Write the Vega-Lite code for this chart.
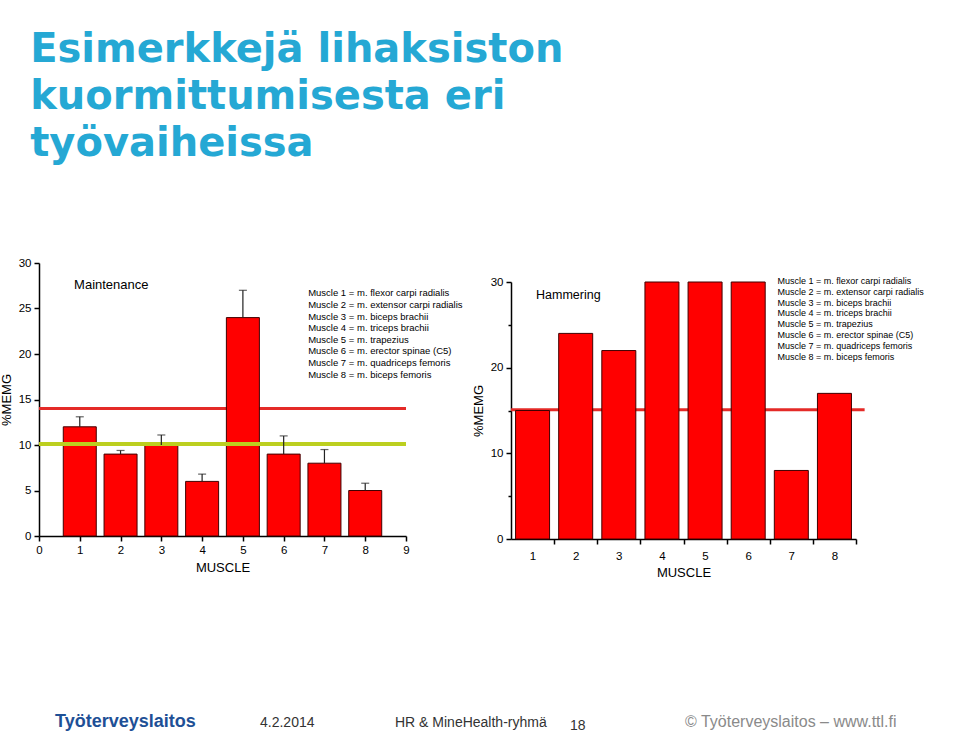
{
  "$schema": "https://vega.github.io/schema/vega-lite/v6.json",
  "background": "white",
  "padding": {"top": 30, "left": 0, "right": 0, "bottom": 0},
  "config": {
    "view": {"stroke": null},
    "font": "Liberation Sans",
    "axis": {
      "domainColor": "#000000", "domainWidth": 1.5,
      "tickColor": "#000000", "tickWidth": 1.5,
      "labelColor": "#000000", "labelFont": "Liberation Sans", "labelFontSize": 11.5,
      "titleFont": "Liberation Sans", "titleFontSize": 13, "titleFontWeight": "normal", "titleColor": "#000000",
      "grid": false, "labelOverlap": false, "labelFlush": false
    }
  },
  "title": {
    "text": ["Esimerkkejä lihaksiston", "kuormittumisesta eri", "työvaiheissa"],
    "anchor": "start", "font": "DejaVu Sans", "fontSize": 40, "fontWeight": "bold",
    "color": "#25a8d4", "lineHeight": 47, "offset": 93, "dx": 30
  },
  "datasets": {
    "maintenance": [
      {"muscle": 1, "value": 12, "upper": 13.1},
      {"muscle": 2, "value": 9, "upper": 9.4},
      {"muscle": 3, "value": 10, "upper": 11.1},
      {"muscle": 4, "value": 6, "upper": 6.8},
      {"muscle": 5, "value": 24, "upper": 27},
      {"muscle": 6, "value": 9, "upper": 11},
      {"muscle": 7, "value": 8, "upper": 9.5},
      {"muscle": 8, "value": 5, "upper": 5.8}
    ],
    "hammering": [
      {"muscle": 1, "value": 15},
      {"muscle": 2, "value": 24},
      {"muscle": 3, "value": 22},
      {"muscle": 4, "value": 30},
      {"muscle": 5, "value": 30},
      {"muscle": 6, "value": 30},
      {"muscle": 7, "value": 8},
      {"muscle": 8, "value": 17}
    ]
  },
  "spacing": 117,
  "vconcat": [
    {
      "bounds": "flush",
      "spacing": 105,
      "hconcat": [
        {
          "width": 367,
          "height": 273,
          "data": {"name": "maintenance"},
          "layer": [
            {
              "data": {"values": [{}]},
              "mark": {"type": "rule", "color": "#e42a27", "strokeWidth": 3},
              "encoding": {
                "x": {"datum": 0, "type": "quantitative"},
                "x2": {"datum": 9},
                "y": {"datum": 14, "type": "quantitative"}
              }
            },
            {
              "mark": {"type": "bar", "color": "#ff0000", "stroke": "#400000", "strokeWidth": 1, "size": 33},
              "encoding": {
                "x": {
                  "field": "muscle", "type": "quantitative",
                  "scale": {"domain": [0, 9], "nice": false, "zero": false, "padding": 0},
                  "axis": {
                    "title": "MUSCLE",
                    "values": [0, 0.5, 1, 1.5, 2, 2.5, 3, 3.5, 4, 4.5, 5, 5.5, 6, 6.5, 7, 7.5, 8, 8.5, 9],
                    "labelExpr": "datum.value % 1 === 0 ? datum.label : ''",
                    "labelOverlap": false,
                    "tickSize": {"condition": {"test": "datum.value % 1 === 0", "value": 5}, "value": 3},
                    "labelPadding": 3, "titlePadding": 6
                  }
                },
                "y": {
                  "field": "value", "type": "quantitative",
                  "scale": {"domain": [0, 30], "nice": false},
                  "axis": {
                    "title": "%MEMG",
                    "values": [0, 2.5, 5, 7.5, 10, 12.5, 15, 17.5, 20, 22.5, 25, 27.5, 30],
                    "labelExpr": "datum.value % 5 === 0 ? datum.label : ''",
                    "labelOverlap": false,
                    "tickSize": {"condition": {"test": "datum.value % 5 === 0", "value": 5}, "value": 3},
                    "labelPadding": 3, "titlePadding": 5
                  }
                }
              }
            },
            {
              "data": {"values": [{}]},
              "mark": {"type": "rule", "color": "#bccf1f", "strokeWidth": 4},
              "encoding": {
                "x": {"datum": 0, "type": "quantitative"},
                "x2": {"datum": 9},
                "y": {"datum": 10.1, "type": "quantitative"}
              }
            },
            {
              "mark": {"type": "rule", "color": "#222222", "strokeWidth": 1.2},
              "encoding": {
                "x": {"field": "muscle", "type": "quantitative"},
                "y": {"field": "value", "type": "quantitative"},
                "y2": {"field": "upper"}
              }
            },
            {
              "mark": {"type": "tick", "orient": "horizontal", "color": "#222222", "size": 8, "thickness": 1.2},
              "encoding": {
                "x": {"field": "muscle", "type": "quantitative"},
                "y": {"field": "upper", "type": "quantitative"}
              }
            },
            {
              "data": {"values": [{}]},
              "mark": {"type": "text", "text": "Maintenance", "align": "left", "baseline": "middle", "fontSize": 13, "color": "#000000"},
              "encoding": {
                "x": {"datum": 0.86, "type": "quantitative"},
                "y": {"datum": 27.6, "type": "quantitative"}
              }
            },
            {
              "data": {"values": [{}]},
              "mark": {
                "type": "text", "align": "left", "baseline": "top", "fontSize": 9.5, "lineHeight": 11.6, "color": "#000000",
                "text": [
                  "Muscle 1 = m. flexor carpi radialis",
                  "Muscle 2 = m. extensor carpi radialis",
                  "Muscle 3 = m. biceps brachii",
                  "Muscle 4 = m. triceps brachii",
                  "Muscle 5 = m. trapezius",
                  "Muscle 6 = m. erector spinae (C5)",
                  "Muscle 7 = m. quadriceps femoris",
                  "Muscle 8 = m. biceps femoris"
                ]
              },
              "encoding": {
                "x": {"datum": 6.6, "type": "quantitative"},
                "y": {"datum": 27.2, "type": "quantitative"}
              }
            }
          ]
        },
        {
          "width": 345,
          "height": 276,
          "data": {"name": "hammering"},
          "layer": [
            {
              "data": {"values": [{}]},
              "mark": {"type": "rule", "color": "#e42a27", "strokeWidth": 3},
              "encoding": {
                "x": {"datum": 0.5, "type": "quantitative"},
                "x2": {"datum": 8.7},
                "y": {"datum": 15.1, "type": "quantitative"}
              }
            },
            {
              "mark": {"type": "bar", "color": "#ff0000", "stroke": "#400000", "strokeWidth": 1, "size": 34},
              "encoding": {
                "x": {
                  "field": "muscle", "type": "quantitative",
                  "scale": {"domain": [0.5, 8.5], "nice": false, "zero": false, "padding": 0},
                  "axis": {
                    "title": "MUSCLE",
                    "values": [1, 2, 3, 4, 5, 6, 7, 8],
                    "format": "d",
                    "labelOverlap": false,
                    "tickSize": 5,
                    "tickOffset": 21.5625,
                    "labelOffset": -21.5625,
                    "labelPadding": 6, "titlePadding": 5
                  }
                },
                "y": {
                  "field": "value", "type": "quantitative",
                  "scale": {"domain": [0, 30], "nice": false, "range": [276, 19]},
                  "axis": {
                    "title": "%MEMG",
                    "values": [0, 5, 10, 15, 20, 25, 30],
                    "labelExpr": "datum.value % 10 === 0 ? datum.label : ''",
                    "labelOverlap": false,
                    "tickSize": {"condition": {"test": "datum.value % 10 === 0", "value": 5}, "value": 3},
                    "labelPadding": 3, "titlePadding": 5
                  }
                }
              }
            },
            {
              "data": {"values": [{}]},
              "mark": {"type": "text", "text": "Hammering", "align": "left", "baseline": "middle", "fontSize": 12.5, "color": "#000000"},
              "encoding": {
                "x": {"datum": 1.08, "type": "quantitative"},
                "y": {"datum": 28.5, "type": "quantitative"}
              }
            },
            {
              "data": {"values": [{}]},
              "mark": {
                "type": "text", "align": "left", "baseline": "top", "fontSize": 9, "lineHeight": 10.8, "color": "#000000",
                "text": [
                  "Muscle 1 = m. flexor carpi radialis",
                  "Muscle 2 = m. extensor carpi radialis",
                  "Muscle 3 = m. biceps brachii",
                  "Muscle 4 = m. triceps brachii",
                  "Muscle 5 = m. trapezius",
                  "Muscle 6 = m. erector spinae (C5)",
                  "Muscle 7 = m. quadriceps femoris",
                  "Muscle 8 = m. biceps femoris"
                ]
              },
              "encoding": {
                "x": {"datum": 6.68, "type": "quantitative"},
                "y": {"datum": 30.58, "type": "quantitative"}
              }
            }
          ]
        }
      ]
    },
    {
      "width": 921,
      "height": 30,
      "data": {"values": [{}]},
      "encoding": {
        "y": {"datum": 0, "type": "quantitative", "scale": {"domain": [0, 1], "nice": false}, "axis": null}
      },
      "layer": [
        {
          "mark": {"type": "text", "text": "Työterveyslaitos", "align": "left", "baseline": "alphabetic", "fontSize": 18, "fontWeight": "bold", "color": "#1e5096"},
          "encoding": {"x": {"datum": 16, "type": "quantitative", "scale": {"domain": [0, 921], "nice": false, "zero": false}, "axis": null}}
        },
        {
          "mark": {"type": "text", "text": "4.2.2014", "align": "left", "baseline": "alphabetic", "fontSize": 14, "color": "#333333"},
          "encoding": {"x": {"datum": 221, "type": "quantitative"}}
        },
        {
          "mark": {"type": "text", "text": "HR & MineHealth-ryhmä", "align": "left", "baseline": "alphabetic", "fontSize": 14, "color": "#333333"},
          "encoding": {"x": {"datum": 356, "type": "quantitative"}}
        },
        {
          "mark": {"type": "text", "text": "18", "align": "left", "baseline": "alphabetic", "fontSize": 14, "color": "#333333", "dy": 3},
          "encoding": {"x": {"datum": 531, "type": "quantitative"}}
        },
        {
          "mark": {"type": "text", "text": "© Työterveyslaitos  –  www.ttl.fi", "align": "left", "baseline": "alphabetic", "fontSize": 16, "color": "#8a8a8a"},
          "encoding": {"x": {"datum": 646, "type": "quantitative"}}
        }
      ]
    }
  ]
}
